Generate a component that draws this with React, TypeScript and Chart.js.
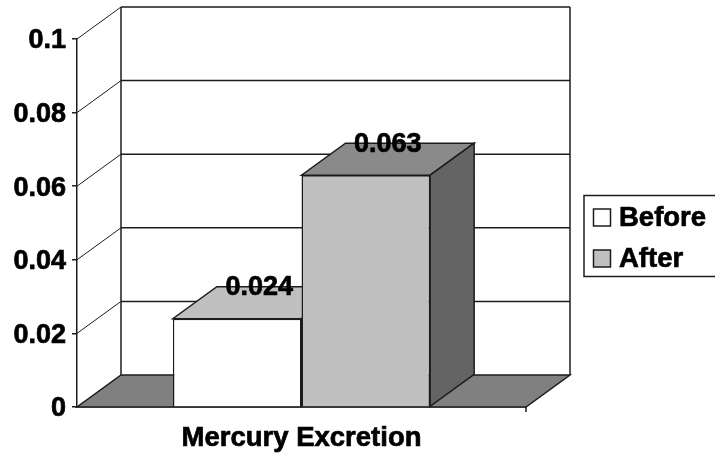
import React, { useEffect, useRef } from "react";
import { Chart, registerables } from "chart.js";

Chart.register(...registerables);

const categories = ["Mercury Excretion"];
const beforeValues = [0.024];
const afterValues = [0.063];
const valueLabels = ["0.024", "0.063"];
const seriesNames = ["Before", "After"];
const seriesColors = ["#ffffff", "#c0c0c0"];
const topColors = ["#c0c0c0", "#8a8a8a"];
const sideColors = ["#c0c0c0", "#646464"];

const FAMILY = '"Liberation Sans", Arial, sans-serif';
const INK = "#1c1c1c";
const DX = 44;
const DY = 32;

function poly(ctx: CanvasRenderingContext2D, pts: number[][], fill?: string, lw = 1.5) {
  ctx.beginPath();
  pts.forEach((p, i) => (i ? ctx.lineTo(p[0], p[1]) : ctx.moveTo(p[0], p[1])));
  ctx.closePath();
  if (fill) {
    ctx.fillStyle = fill;
    ctx.fill();
  }
  ctx.lineWidth = lw;
  ctx.strokeStyle = INK;
  ctx.stroke();
}

function seg(ctx: CanvasRenderingContext2D, x1: number, y1: number, x2: number, y2: number, lw = 1.5) {
  ctx.beginPath();
  ctx.moveTo(x1, y1);
  ctx.lineTo(x2, y2);
  ctx.lineWidth = lw;
  ctx.strokeStyle = INK;
  ctx.stroke();
}

function heavyText(ctx: CanvasRenderingContext2D, s: string, x: number, y: number) {
  ctx.fillStyle = "#000";
  ctx.strokeStyle = "#000";
  ctx.lineWidth = 0.7;
  ctx.fillText(s, x, y);
  ctx.strokeText(s, x, y);
}

const scene3d = {
  id: "scene3d",
  beforeDatasetsDraw(chart: any) {
    const { ctx, chartArea: a, scales } = chart;
    const y = scales.y;
    ctx.save();
    y.ticks.forEach((t: any) => {
      const py = y.getPixelForValue(t.value);
      if (t.value > 0) {
        seg(ctx, a.left, py, a.left + DX, py - DY, 1);
        seg(ctx, a.left + DX, py - DY, a.right + DX, py - DY);
      }
    });
    seg(ctx, a.left + DX, a.top - DY, a.left + DX, a.bottom - DY);
    seg(ctx, a.right + DX, a.top - DY, a.right + DX, a.bottom - DY);
    poly(ctx, [
      [a.left, a.bottom],
      [a.right, a.bottom],
      [a.right + DX, a.bottom - DY],
      [a.left + DX, a.bottom - DY],
    ], "#808080", 1.5);
    seg(ctx, a.right, a.bottom, a.right, a.bottom + 5);
    chart.data.datasets.forEach((_: any, i: number) => {
      const bar = chart.getDatasetMeta(i).data[0];
      const l = bar.x - bar.width / 2;
      const r = bar.x + bar.width / 2;
      poly(ctx, [[l, bar.y], [r, bar.y], [r + DX, bar.y - DY], [l + DX, bar.y - DY]], topColors[i]);
      poly(ctx, [[r, bar.y], [r + DX, bar.y - DY], [r + DX, bar.base - DY], [r, bar.base]], sideColors[i]);
    });
    ctx.restore();
  },
  afterDatasetsDraw(chart: any) {
    const { ctx } = chart;
    ctx.save();
    ctx.font = `bold 27px ${FAMILY}`;
    ctx.textAlign = "center";
    ctx.textBaseline = "middle";
    chart.data.datasets.forEach((_: any, i: number) => {
      const bar = chart.getDatasetMeta(i).data[0];
      heavyText(ctx, valueLabels[i], bar.x + DX / 2, bar.y - DY + 1);
    });
    ctx.lineWidth = 1.5;
    ctx.strokeStyle = INK;
    ctx.strokeRect(584, 195.5, 140, 81);
    ctx.textAlign = "left";
    ctx.font = `bold 27.5px ${FAMILY}`;
    chart.data.datasets.forEach((d: any, i: number) => {
      const cy = 218 + i * 41;
      ctx.fillStyle = d.backgroundColor;
      ctx.fillRect(593.5, cy - 9, 17, 17);
      ctx.lineWidth = 1.5;
      ctx.strokeStyle = INK;
      ctx.strokeRect(593.5, cy - 9, 17, 17);
      heavyText(ctx, d.label, 619, cy);
    });
    ctx.restore();
  },
};

export default function App() {
  const ref = useRef<HTMLCanvasElement>(null);
  useEffect(() => {
    const chart = new Chart(ref.current as HTMLCanvasElement, {
      type: "bar",
      data: {
        labels: categories,
        datasets: [
          { label: seriesNames[0], data: beforeValues, backgroundColor: seriesColors[0], borderColor: INK, borderWidth: 1.5 },
          { label: seriesNames[1], data: afterValues, backgroundColor: seriesColors[1], borderColor: INK, borderWidth: 1.5 },
        ],
      },
      options: {
        responsive: false,
        animation: false,
        layout: { padding: { top: 39, right: 189, left: 0, bottom: 0 } },
        plugins: { legend: { display: false }, tooltip: { enabled: false }, title: { display: false } },
        datasets: { bar: { categoryPercentage: 0.573, barPercentage: 1 } },
        scales: {
          x: {
            grid: { display: false },
            border: { display: true, color: INK, width: 1.5 },
            ticks: {
              font: { family: FAMILY, size: 27.5, weight: "bold" },
              color: "#000",
              textStrokeColor: "#000",
              textStrokeWidth: 0.7,
              padding: 7,
              maxRotation: 0,
              autoSkip: false,
            },
            afterFit: (s: any) => { s.height = 50; },
          },
          y: {
            min: 0,
            max: 0.1,
            grid: { drawOnChartArea: false, drawTicks: true, tickLength: 5, tickColor: INK, lineWidth: 1.5 },
            border: { display: true, color: INK, width: 1.5 },
            ticks: {
              stepSize: 0.02,
              font: { family: FAMILY, size: 27, weight: "bold" },
              color: "#000",
              textStrokeColor: "#000",
              textStrokeWidth: 0.7,
              padding: 6,
              callback: (v: any) => String(Number(v.toFixed(2))),
            },
            afterFit: (s: any) => {
              s.width = 77;
              if (!s.__shifted) {
                s.__shifted = true;
                const draw = s.drawLabels.bind(s);
                s.drawLabels = (area: any) => {
                  s.ctx.save();
                  s.ctx.translate(0, 2);
                  draw(area);
                  s.ctx.restore();
                };
              }
            },
          },
        },
      } as any,
      plugins: [scene3d],
    });
    return () => chart.destroy();
  }, []);
  return (
    <canvas
      ref={ref}
      width={715}
      height={457}
      style={{ position: "absolute", left: 0, top: 0, display: "block", background: "#fff" }}
    />
  );
}
